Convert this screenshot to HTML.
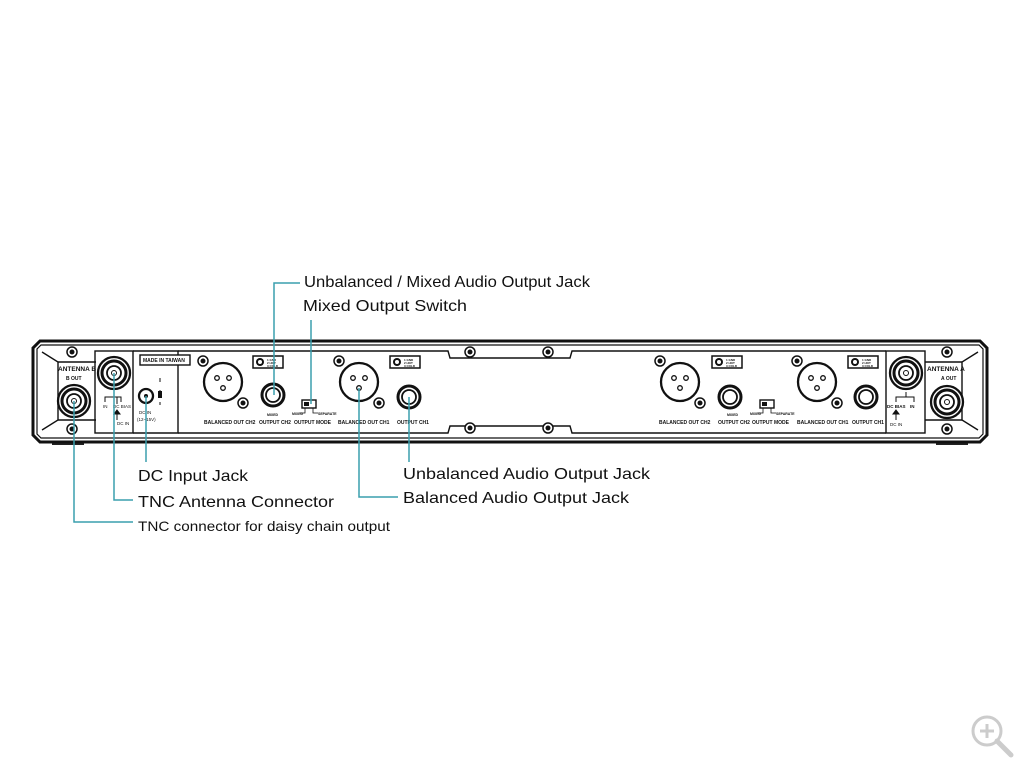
<!DOCTYPE html>
<html><head><meta charset="utf-8"><style>
html,body{margin:0;padding:0;background:#fff;width:1024px;height:768px;overflow:hidden}
svg{display:block}
.t{font-family:"Liberation Sans",Arial,sans-serif;fill:#111}
.s{font-family:"Liberation Sans",Arial,sans-serif;fill:#111;font-weight:bold}
</style></head><body>
<svg width="1024" height="768" viewBox="0 0 1024 768" xmlns="http://www.w3.org/2000/svg">
<defs>
<g id="screw"><circle r="5" fill="#fff" stroke="#111" stroke-width="1.5"/><circle r="2.5" fill="#111"/></g>
<g id="xlr"><circle r="19" fill="#fff" stroke="#111" stroke-width="2.3"/><circle cx="-6" cy="-4" r="2.3" fill="none" stroke="#111" stroke-width="1.3"/><circle cx="6" cy="-4" r="2.3" fill="none" stroke="#111" stroke-width="1.3"/><circle cx="0" cy="6" r="2.3" fill="none" stroke="#111" stroke-width="1.3"/></g>
<g id="jack"><circle r="11" fill="#fff" stroke="#111" stroke-width="3"/><circle r="7" fill="#fff" stroke="#111" stroke-width="1.8"/></g>
<g id="tnc"><circle r="16" fill="#fff" stroke="#111" stroke-width="2.3"/><circle r="12" fill="none" stroke="#111" stroke-width="3"/><circle r="7" fill="none" stroke="#111" stroke-width="1.8"/><circle r="2.5" fill="none" stroke="#111" stroke-width="1"/></g>
<g id="gnd"><rect x="0" y="0" width="30" height="12" fill="#fff" stroke="#111" stroke-width="1.5"/><circle cx="7" cy="6" r="4" fill="#111"/><circle cx="7" cy="6" r="2" fill="#fff"/><text x="14" y="5" font-size="3" class="s">1 GND</text><text x="14" y="8" font-size="3" class="s">2 HOT</text><text x="14" y="11" font-size="3" class="s">3 COLD</text></g>
</defs>
<!-- feet -->
<rect x="52" y="441" width="32" height="4" fill="#222"/>
<rect x="936" y="441" width="32" height="4" fill="#222"/>
<!-- chassis -->
<path d="M40 341 H980 L987 348 V435 L980 442 H40 L33 435 V348 Z" fill="#fff" stroke="#111" stroke-width="3"/>
<path d="M41 345 H979 L983 349 V434 L979 438 H41 L37 434 V349 Z" fill="none" stroke="#111" stroke-width="1.2"/>
<!-- left ear -->
<path d="M42 352 L58 362 V420 L42 430" fill="none" stroke="#111" stroke-width="1.4"/>
<path d="M58 362 H96 M58 420 H96" fill="none" stroke="#111" stroke-width="1.4"/>
<rect x="95" y="351" width="38" height="82" fill="none" stroke="#111" stroke-width="1.4"/>
<path d="M133 351 H178 V433 H133" fill="none" stroke="#111" stroke-width="1.4"/>
<!-- right ear -->
<path d="M978 352 L962 362 V420 L978 430" fill="none" stroke="#111" stroke-width="1.4"/>
<path d="M962 362 H925 M962 420 H925" fill="none" stroke="#111" stroke-width="1.4"/>
<rect x="886" y="351" width="39" height="82" fill="none" stroke="#111" stroke-width="1.4"/>
<!-- center recess -->
<path d="M178 351 H448 L450 358 H570 L572 351 H886" fill="none" stroke="#111" stroke-width="1.4"/>
<path d="M178 433 H448 L450 426 H570 L572 433 H886" fill="none" stroke="#111" stroke-width="1.4"/>
<use href="#screw" x="470" y="352"/><use href="#screw" x="548" y="352"/>
<use href="#screw" x="470" y="428"/><use href="#screw" x="548" y="428"/>
<use href="#screw" x="72" y="352"/><use href="#screw" x="72" y="429"/>
<use href="#screw" x="947" y="352"/><use href="#screw" x="947" y="429"/>
<!-- left text -->
<text x="58" y="371" font-size="6.5" class="s">ANTENNA B</text>
<text x="66" y="380" font-size="5" class="s">B OUT</text>
<use href="#tnc" x="74" y="401"/>
<use href="#tnc" x="114" y="373"/>
<path d="M105 402 V397 H121 V402 M117 397 V404" fill="none" stroke="#111" stroke-width="1"/>
<text x="103" y="408" font-size="4.5" class="t">IN</text><text x="113" y="408" font-size="4.5" class="t">DC BIAS</text>
<text x="117" y="425" font-size="4.5" class="t">DC IN</text>
<path d="M117 410 L120 414 L114 414 Z M117 414 V420" fill="#111" stroke="#111" stroke-width="1"/>
<rect x="140" y="355" width="50" height="10" fill="#fff" stroke="#111" stroke-width="1.4"/>
<text x="143" y="362" font-size="5" class="s">MADE IN TAIWAN</text>
<circle cx="146" cy="396" r="7" fill="#fff" stroke="#111" stroke-width="2.3"/><circle cx="146" cy="396" r="2" fill="#111"/>
<text x="139" y="414" font-size="4.5" class="t">DC IN</text><text x="137" y="421" font-size="4.5" class="t">(12~15V)</text>
<path d="M160 378 V382 M160 390 V398 M160 402 V405" stroke="#111" stroke-width="1"/><rect x="158" y="391" width="4" height="7" fill="#111"/>
<!-- CH2 left unit -->
<use href="#xlr" x="223" y="382"/><use href="#screw" x="203" y="361"/><use href="#screw" x="243" y="403"/>
<use href="#gnd" x="253" y="356"/>
<use href="#jack" x="273" y="395"/>
<text x="204" y="424" font-size="5" class="s">BALANCED OUT CH2</text>
<text x="267" y="416" font-size="3.5" class="s">MIXED</text>
<text x="259" y="424" font-size="5" class="s">OUTPUT  CH2</text>
<rect x="302" y="400" width="14" height="8" fill="#fff" stroke="#111" stroke-width="1.4"/><rect x="304" y="402" width="5" height="4" fill="#111"/>
<path d="M305 408 V413 H300 M313 408 V413 H318" fill="none" stroke="#111" stroke-width="0.8"/>
<text x="292" y="415" font-size="3.5" class="s">MIXED</text><text x="318" y="415" font-size="3.5" class="s">SEPARATE</text>
<text x="294" y="424" font-size="5" class="s">OUTPUT MODE</text>
<use href="#xlr" x="359" y="382"/><use href="#screw" x="339" y="361"/><use href="#screw" x="379" y="403"/>
<use href="#gnd" x="390" y="356"/>
<use href="#jack" x="409" y="397"/>
<text x="338" y="424" font-size="5" class="s">BALANCED OUT CH1</text>
<text x="397" y="424" font-size="5" class="s">OUTPUT  CH1</text>
<!-- right unit -->
<use href="#xlr" x="680" y="382"/><use href="#screw" x="660" y="361"/><use href="#screw" x="700" y="403"/>
<use href="#gnd" x="712" y="356"/>
<use href="#jack" x="730" y="397"/>
<text x="659" y="424" font-size="5" class="s">BALANCED OUT CH2</text>
<text x="727" y="416" font-size="3.5" class="s">MIXED</text>
<text x="718" y="424" font-size="5" class="s">OUTPUT  CH2</text>
<rect x="760" y="400" width="14" height="8" fill="#fff" stroke="#111" stroke-width="1.4"/><rect x="762" y="402" width="5" height="4" fill="#111"/>
<path d="M763 408 V413 H758 M771 408 V413 H776" fill="none" stroke="#111" stroke-width="0.8"/>
<text x="750" y="415" font-size="3.5" class="s">MIXED</text><text x="776" y="415" font-size="3.5" class="s">SEPARATE</text>
<text x="752" y="424" font-size="5" class="s">OUTPUT MODE</text>
<use href="#xlr" x="817" y="382"/><use href="#screw" x="797" y="361"/><use href="#screw" x="837" y="403"/>
<use href="#gnd" x="848" y="356"/>
<use href="#jack" x="866" y="397"/>
<text x="797" y="424" font-size="5" class="s">BALANCED OUT CH1</text>
<text x="852" y="424" font-size="5" class="s">OUTPUT CH1</text>
<use href="#tnc" x="906" y="373"/>
<use href="#tnc" x="947" y="402"/>
<text x="927" y="371" font-size="6.5" class="s">ANTENNA A</text>
<text x="941" y="380" font-size="5" class="s">A OUT</text>
<path d="M896 402 V397 H914 V402 M906 392 V397" fill="none" stroke="#111" stroke-width="1"/>
<text x="887" y="408" font-size="4.5" class="s">DC BIAS</text><text x="910" y="408" font-size="4.5" class="s">IN</text>
<path d="M896 410 L899 414 L893 414 Z M896 414 V420" fill="#111" stroke="#111" stroke-width="1"/>
<text x="890" y="426" font-size="4.5" class="t">DC IN</text>
<!-- callouts -->
<g fill="none" stroke="#3a9fae" stroke-width="1.5">
<path d="M274 395 V283 H300"/>
<path d="M311 404 V320"/>
<path d="M146 396 V462"/>
<path d="M114 373 V500 H133"/>
<path d="M74 401 V522 H133"/>
<path d="M409 397 V462"/>
<path d="M359 388 V497 H398"/>
</g>
<g class="t" font-size="16">
<text x="304" y="287" textLength="286" lengthAdjust="spacingAndGlyphs">Unbalanced / Mixed Audio Output Jack</text>
<text x="303" y="311" textLength="164" lengthAdjust="spacingAndGlyphs">Mixed Output Switch</text>
<text x="138" y="481" textLength="110" lengthAdjust="spacingAndGlyphs">DC Input Jack</text>
<text x="138" y="507" textLength="196" lengthAdjust="spacingAndGlyphs">TNC Antenna Connector</text>
<text x="403" y="479" textLength="247" lengthAdjust="spacingAndGlyphs">Unbalanced Audio Output Jack</text>
<text x="403" y="503" textLength="226" lengthAdjust="spacingAndGlyphs">Balanced Audio Output Jack</text>
<text x="138" y="531" font-size="14" textLength="252" lengthAdjust="spacingAndGlyphs">TNC connector for daisy chain output</text>
</g>
<!-- zoom icon -->
<g fill="none" stroke="#ccc" stroke-width="3">
<circle cx="987" cy="731" r="14"/><path d="M997 741 L1011 755" stroke-width="5" stroke-linecap="round"/><path d="M980 731 H994 M987 724 V738"/>
</g>
</svg>
</body></html>
